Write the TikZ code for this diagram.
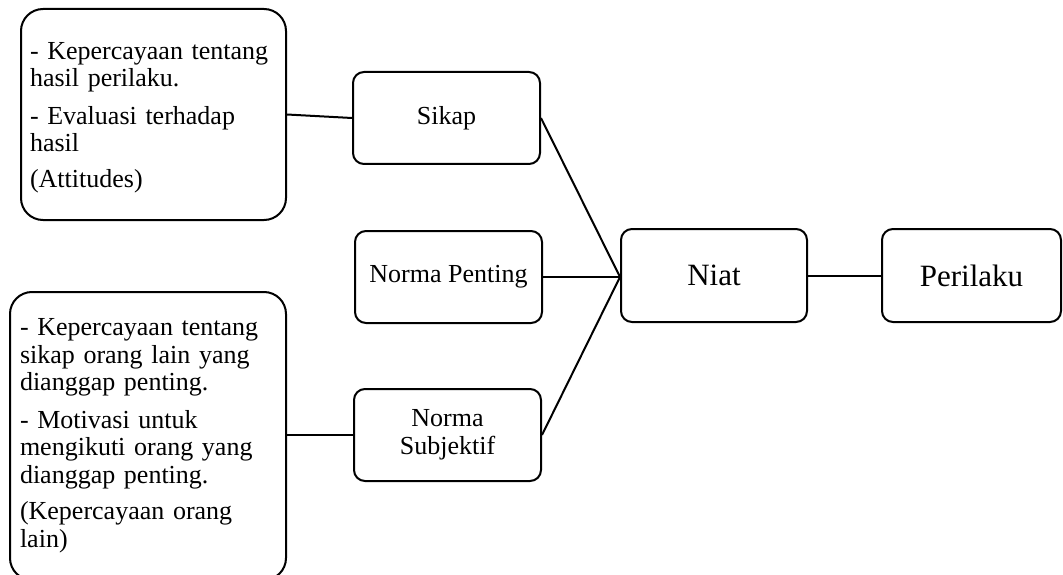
\documentclass[tikz,border=0pt]{standalone}
\usepackage{fontspec}
\setmainfont{Liberation Serif}
\begin{document}
\begin{tikzpicture}[x=1pt,y=-1pt,
  bigbox/.style={draw,line width=2pt,rounded corners=22pt,align=left,inner xsep=0pt,inner ysep=0pt,
     font=\fontsize{26}{27.5}\selectfont},
  smallbox/.style={draw,line width=2pt,rounded corners=11pt,align=center,inner sep=0pt,
     minimum width=187pt,minimum height=92pt,font=\fontsize{26}{28}\selectfont},
  mainbox/.style={draw,line width=2pt,rounded corners=11pt,align=center,inner sep=0pt,
     minimum height=93pt,font=\fontsize{31}{33}\selectfont},
  link/.style={line width=2pt}]
\useasboundingbox (0,0) rectangle (1063,575);
\node[bigbox,minimum width=265pt,minimum height=211pt,text width=247pt] (att) at (153.5,114.5)
  {\rule{0pt}{23.5pt}- Kepercayaan tentang\\hasil perilaku.\\[10pt]- Evaluasi terhadap\\hasil\\[8.5pt](Attitudes)};
\node[bigbox,minimum width=276pt,minimum height=288pt,text width=256pt] (kep) at (148,436)
  {- Kepercayaan tentang\\sikap orang lain yang\\dianggap penting.\\[10pt]- Motivasi untuk\\mengikuti orang yang\\dianggap penting.\\[9pt](Kepercayaan orang\\lain)};
\node[smallbox] (sikap) at (446.5,118) {Sikap};
\node[smallbox] (np) at (448.5,277) {Norma Penting};
\node[smallbox] (ns) at (447.5,435) {Norma\\Subjektif};
\node[mainbox,minimum width=186pt] (niat) at (714,275.5) {Niat};
\node[mainbox,minimum width=179pt] (per) at (971.5,275.5) {Perilaku};
\coordinate (conv) at (620,277);
\draw[link] (att.east) -- (sikap.west);
\draw[link] (kep.east |- ns.west) -- (ns.west);
\draw[link] (sikap.east) -- (conv);
\draw[link] (np.east) -- (conv);
\draw[link] (ns.east) -- (conv);
\draw[link] (niat.east) -- (per.west);
\end{tikzpicture}
\end{document}
